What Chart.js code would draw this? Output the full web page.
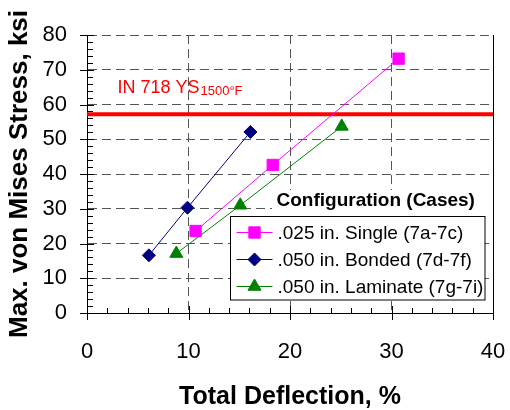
<!DOCTYPE html>
<html>
<head>
<meta charset="utf-8">
<script src="https://cdn.jsdelivr.net/npm/chart.js@4.4.1/dist/chart.umd.min.js"></script>
<style>
  html, body { margin: 0; padding: 0; background: #fff; }
  #wrap { width: 510px; height: 410px; }
</style>
</head>
<body>
<div id="wrap"><canvas id="grafico"></canvas></div>
<script>
const legendas = ['.025 in. Single (7a-7c)', '.050 in. Bonded (7d-7f)', '.050 in. Laminate (7g-7i)']
const singleX = [10.7, 18.3, 30.7]
const singleY = [23.6, 42.6, 73.2]
const bondedX = [6.1, 9.9, 16.1]
const bondedY = [16.6, 30.3, 52.1]
const laminateX = [8.8, 15.1, 25.1]
const laminateY = [17.1, 31.0, 53.7]
const limiteY = 57.2 // IN 718 yield stress at 1500°F
const xTicks = [0, 10, 20, 30, 40]
const yTicks = [0, 10, 20, 30, 40, 50, 60, 70, 80]

const fonte = "'Liberation Sans', Arial, sans-serif"

const pontos = (xs, ys) => xs.map((x, i) => ({ x: x, y: ys[i] }))

const ehValor = (c, v) => c.tick && c.tick.value === v

// minor ticks inside, major ticks crossing the axis
const marcas = {
  id: 'marcas',
  afterDraw(chart) {
    const { ctx, chartArea: a, scales: { x, y } } = chart
    ctx.save()
    ctx.strokeStyle = '#000'
    ctx.lineWidth = 1
    ctx.beginPath()
    for (let v = x.min; v <= x.max; v += 2) {
      const px = Math.round(x.getPixelForValue(v)) + 0.5
      const major = v % 10 === 0
      ctx.moveTo(px, a.bottom + (major ? 7 : 0))
      ctx.lineTo(px, a.bottom - (major ? 7 : 5))
    }
    for (let v = y.min; v <= y.max; v += 2) {
      const py = Math.round(y.getPixelForValue(v)) + 0.5
      const major = v % 10 === 0
      ctx.moveTo(a.left - (major ? 7 : 0), py)
      ctx.lineTo(a.left + (major ? 7 : 6), py)
    }
    ctx.stroke()
    ctx.restore()
  }
}

const rotulo = {
  id: 'rotulo',
  afterDatasetsDraw(chart) {
    const { ctx, scales: { x, y } } = chart
    const lx = x.getPixelForValue(3)
    const ly = y.getPixelForValue(63.4)
    ctx.save()
    ctx.fillStyle = '#ff0000'
    ctx.textBaseline = 'alphabetic'
    ctx.font = '18px ' + fonte
    ctx.fillText('IN 718 YS', lx, ly)
    const w = ctx.measureText('IN 718 YS').width
    ctx.font = '13px ' + fonte
    ctx.fillText('1500°F', lx + w + 1, ly + 2)
    ctx.restore()
  }
}

const legenda = {
  id: 'legenda',
  afterDatasetsDraw(chart) {
    const { ctx, chartArea: a } = chart
    const bx = 230.5, by = 216.5
    const bw = a.right - 8 - bx
    const bh = a.bottom - 13 - by
    ctx.save()
    // fundo do titulo
    ctx.fillStyle = '#fff'
    ctx.fillRect(272, 190, a.right - 1 - 272, by - 190)
    ctx.fillStyle = '#000'
    ctx.font = 'bold 19px ' + fonte
    ctx.textBaseline = 'alphabetic'
    ctx.fillText('Configuration (Cases)', bx + 46, by - 11)
    // caixa
    ctx.fillStyle = '#fff'
    ctx.fillRect(bx, by, bw, bh)
    ctx.strokeStyle = '#000'
    ctx.lineWidth = 1
    ctx.strokeRect(bx, by, bw, bh)
    ctx.font = '19px ' + fonte
    ctx.textBaseline = 'middle'
    chart.data.datasets.slice(0, 3).forEach((ds, i) => {
      const ry = by + 16 + i * 27
      ctx.strokeStyle = ds.borderColor
      ctx.fillStyle = ds.backgroundColor
      ctx.lineWidth = 1
      ctx.beginPath()
      ctx.moveTo(bx + 6, ry)
      ctx.lineTo(bx + 42, ry)
      ctx.stroke()
      Chart.helpers.drawPoint(ctx, { pointStyle: ds.pointStyle, radius: ds.pointRadius, rotation: 0, borderWidth: 1 }, bx + 24, ry)
      ctx.fillStyle = '#000'
      ctx.fillText(ds.label, bx + 47, ry + 1)
    })
    ctx.restore()
  }
}

new Chart(document.getElementById('grafico'), {
  type: 'scatter',
  data: {
    datasets: [
      {
        label: legendas[0],
        data: pontos(singleX, singleY),
        showLine: true,
        borderColor: '#ff00ff',
        backgroundColor: '#ff00ff',
        borderWidth: 1,
        pointStyle: 'rect',
        pointRadius: 8,
        pointBorderWidth: 1
      },
      {
        label: legendas[1],
        data: pontos(bondedX, bondedY),
        showLine: true,
        borderColor: '#000080',
        backgroundColor: '#000080',
        borderWidth: 1,
        pointStyle: 'rectRot',
        pointRadius: 6.5,
        pointBorderWidth: 1
      },
      {
        label: legendas[2],
        data: pontos(laminateX, laminateY),
        showLine: true,
        borderColor: '#008000',
        backgroundColor: '#008000',
        borderWidth: 1,
        pointStyle: 'triangle',
        pointRadius: 7.5,
        pointBorderWidth: 1
      },
      {
        label: 'IN 718 YS',
        data: [{ x: xTicks[0], y: limiteY }, { x: xTicks[xTicks.length - 1], y: limiteY }],
        showLine: true,
        borderColor: '#ff0000',
        borderWidth: 4,
        pointRadius: 0
      }
    ]
  },
  options: {
    responsive: true,
    maintainAspectRatio: false,
    animation: false,
    events: [],
    layout: { padding: { top: 35, right: 17, bottom: 0, left: 0 } },
    plugins: {
      legend: { display: false },
      tooltip: { enabled: false }
    },
    scales: {
      x: {
        type: 'linear',
        min: xTicks[0],
        max: xTicks[xTicks.length - 1],
        afterFit: (s) => {
          s.height = 97
          s.paddingLeft = 0
          s.paddingRight = 0
        },
        ticks: {
          stepSize: xTicks[1] - xTicks[0],
          padding: 26,
          color: '#000',
          font: { size: 22, family: fonte }
        },
        grid: {
          drawTicks: false,
          lineWidth: 1,
          color: (c) => ehValor(c, 0) ? 'rgba(0,0,0,0)' : (ehValor(c, 40) ? '#000' : '#555')
        },
        border: {
          display: true,
          color: '#000',
          width: 1,
          dash: (c) => ehValor(c, 40) ? [] : [9, 5]
        },
        title: {
          display: true,
          text: 'Total Deflection, %',
          color: '#000',
          font: { size: 25, weight: 'bold', family: fonte, lineHeight: 1 },
          padding: { top: 0, bottom: 0 }
        }
      },
      y: {
        type: 'linear',
        min: yTicks[0],
        max: yTicks[yTicks.length - 1],
        afterFit: (s) => { s.width = 87 },
        ticks: {
          stepSize: yTicks[1] - yTicks[0],
          padding: 20,
          color: '#000',
          font: { size: 22, family: fonte }
        },
        grid: {
          drawTicks: false,
          lineWidth: 1,
          color: (c) => ehValor(c, 0) ? 'rgba(0,0,0,0)' : '#555'
        },
        border: {
          display: true,
          color: '#000',
          width: 1,
          dash: [9, 5]
        },
        title: {
          display: true,
          text: 'Max. von Mises Stress, ksi',
          color: '#000',
          font: { size: 26, weight: 'bold', family: fonte },
          padding: { top: 4, bottom: 0 }
        }
      }
    }
  },
  plugins: [marcas, rotulo, legenda]
})
</script>
</body>
</html>
